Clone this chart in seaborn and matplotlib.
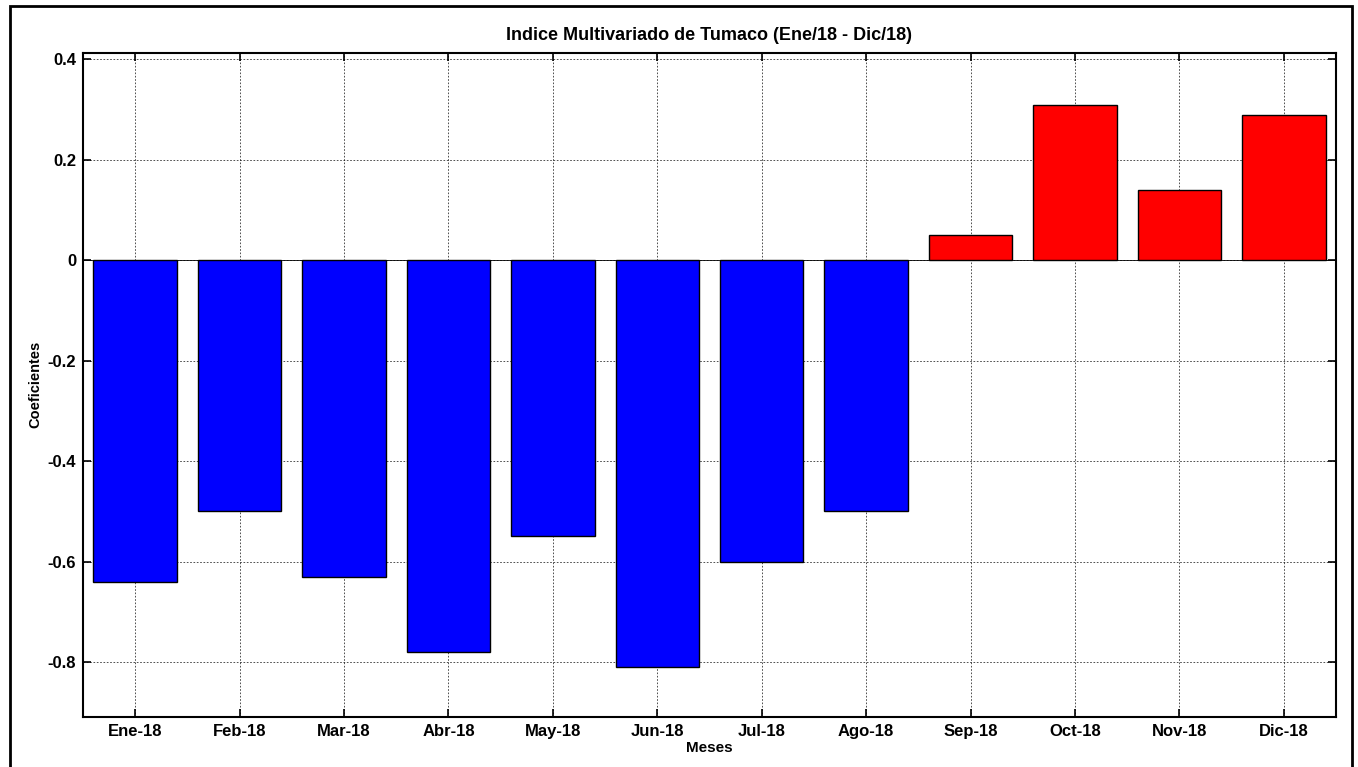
import pandas as pd
import matplotlib
matplotlib.use('Agg')
import matplotlib.pyplot as plt
import seaborn as sns
from matplotlib.patches import Rectangle

# Monthly coefficients
meses = ['Ene-18', 'Feb-18', 'Mar-18', 'Abr-18', 'May-18', 'Jun-18',
         'Jul-18', 'Ago-18', 'Sep-18', 'Oct-18', 'Nov-18', 'Dic-18']
coeficientes = [-0.64, -0.50, -0.63, -0.78, -0.55, -0.81,
                -0.60, -0.50, 0.05, 0.31, 0.14, 0.29]
y_ticks = [-0.8, -0.6, -0.4, -0.2, 0, 0.2, 0.4]
y_tick_labels = ['-0.8', '-0.6', '-0.4', '-0.2', '0', '0.2', '0.4']

df = pd.DataFrame({'mes': meses, 'coef': coeficientes})
df['signo'] = ['pos' if v > 0 else 'neg' for v in df['coef']]

sns.set_style('white')
plt.rcParams['font.family'] = ['Liberation Sans', 'DejaVu Sans']
plt.rcParams['font.weight'] = 'bold'
plt.rcParams['text.color'] = 'black'
plt.rcParams['axes.labelcolor'] = 'black'
plt.rcParams['xtick.color'] = 'black'
plt.rcParams['ytick.color'] = 'black'

fig = plt.figure(figsize=(13.58, 7.67), dpi=100)
ax = fig.add_axes([0.0611, 0.0656, 0.9227, 0.8653])

sns.barplot(data=df, x='mes', y='coef', hue='signo',
            palette={'neg': '#0000ff', 'pos': '#ff0000'}, saturation=1,
            dodge=False, width=0.8, edgecolor='black', linewidth=1.0,
            legend=False, ax=ax)

ax.set_xlim(-0.5, 11.5)
ax.set_ylim(-0.909, 0.4126)
ax.set_yticks(y_ticks)
ax.set_yticklabels(y_tick_labels)
ax.axhline(0, color='black', lw=0.6, zorder=0.5)

ax.grid(True, color='black', linestyle=(0, (2, 2)), linewidth=0.6, alpha=0.8)
ax.set_axisbelow(True)
ax.tick_params(direction='in', length=6, width=1.2, top=True, right=True,
               bottom=True, left=True, labelsize=12, pad=5,
               colors='black')
for lab in ax.get_xticklabels() + ax.get_yticklabels():
    lab.set_fontweight('bold')
for sp in ax.spines.values():
    sp.set_visible(True)
    sp.set_color('black')
    sp.set_linewidth(1.5)

ax.set_title('Indice Multivariado de Tumaco (Ene/18 - Dic/18)',
             fontsize=13, fontweight='bold', pad=9, color='black')
ax.set_xlabel('Meses', fontsize=11, fontweight='bold', labelpad=2)
ax.set_ylabel('Coeficientes', fontsize=10.5, fontweight='bold', labelpad=4)

# outer frame like the original figure border
fig.patches.append(Rectangle((0.0070, -0.05), 0.9886, 1.0423,
                             transform=fig.transFigure, fill=False,
                             edgecolor='black', linewidth=2.0))

fig.savefig('out.png', dpi=100, facecolor='white')
